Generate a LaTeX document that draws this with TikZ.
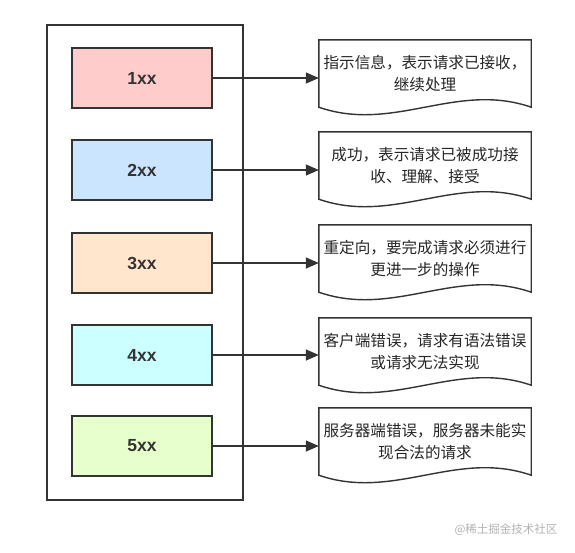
\documentclass[tikz,border=0pt]{standalone}
\usepackage{fontspec}
\usepackage{tikz}
\usepackage{xcolor}
\usetikzlibrary{arrows.meta}
\newfontfamily\cjk{Noto Sans CJK SC}
\newfontfamily\codefont{Liberation Sans}
\definecolor{ink}{HTML}{333333}
\definecolor{fillone}{HTML}{FFCCCC}
\definecolor{filltwo}{HTML}{CCE5FF}
\definecolor{fillthree}{HTML}{FFE6CC}
\definecolor{fillfour}{HTML}{CCFFFF}
\definecolor{fillfive}{HTML}{E6FFCC}

\begin{document}
\begin{tikzpicture}[
    x=1pt, y=-1pt,
    code/.style={rectangle, draw=ink, line width=1.4pt, minimum width=140pt, minimum height=60pt,
                 font=\codefont\bfseries\fontsize{17.5}{17.5}\selectfont, text=ink},
    desc/.style={rectangle, inner sep=0pt, minimum width=212pt, minimum height=67pt,
                 align=center, font=\cjk\fontsize{15.6}{22}\selectfont, text=black!85},
    link/.style={draw=ink, line width=1.4pt, -{Triangle[length=13pt,width=11pt]}},
    docline/.style={draw=ink, line width=1.4pt}
]
  \useasboundingbox (0,0) rectangle (575,552);

  % Outer frame
  \node[draw=ink, line width=1.4pt, minimum width=196pt, minimum height=475pt] (frame) at (145,262.5) {};

  % Status code classes (left column)
  \node[code, fill=fillone]   (c1) at (142,78)  {1xx};
  \node[code, fill=filltwo]   (c2) at (142,170) {2xx};
  \node[code, fill=fillthree] (c3) at (142,263) {3xx};
  \node[code, fill=fillfour]  (c4) at (142,355) {4xx};
  \node[code, fill=fillfive]  (c5) at (142,446) {5xx};

  % Descriptions (right column)
  \node[desc] (d1) at (425,73.5)  {指示信息，表示请求已接收，\\继续处理};
  \node[desc] (d2) at (425,165.5) {成功，表示请求已被成功接\\收、理解、接受};
  \node[desc] (d3) at (425,258.5) {重定向，要完成请求必须进行\\更进一步的操作};
  \node[desc] (d4) at (425,351.5) {客户端错误，请求有语法错误\\或请求无法实现};
  \node[desc] (d5) at (425,441.5) {服务器端错误，服务器未能实\\现合法的请求};

  % Document outlines with wavy bottom
  \foreach \n in {d1,d2,d3,d4,d5}
    \draw[docline] (\n.south west) -- (\n.north west) -- (\n.north east) -- (\n.south east)
      .. controls ([shift={(-75pt,26pt)}]\n.south east) and ([shift={(75pt,-26pt)}]\n.south west) .. (\n.south west) -- cycle;

  % Arrows
  \draw[link] (c1) -- (c1 -| d1.west);
  \draw[link] (c2) -- (c2 -| d2.west);
  \draw[link] (c3) -- (c3 -| d3.west);
  \draw[link] (c4) -- (c4 -| d4.west);
  \draw[link] (c5) -- (c5 -| d5.west);

  % Watermark
  \node[text=black!30, font=\cjk\fontsize{11.5}{12}\selectfont] (wm) at (506,530) {@稀土掘金技术社区};
\end{tikzpicture}
\end{document}
